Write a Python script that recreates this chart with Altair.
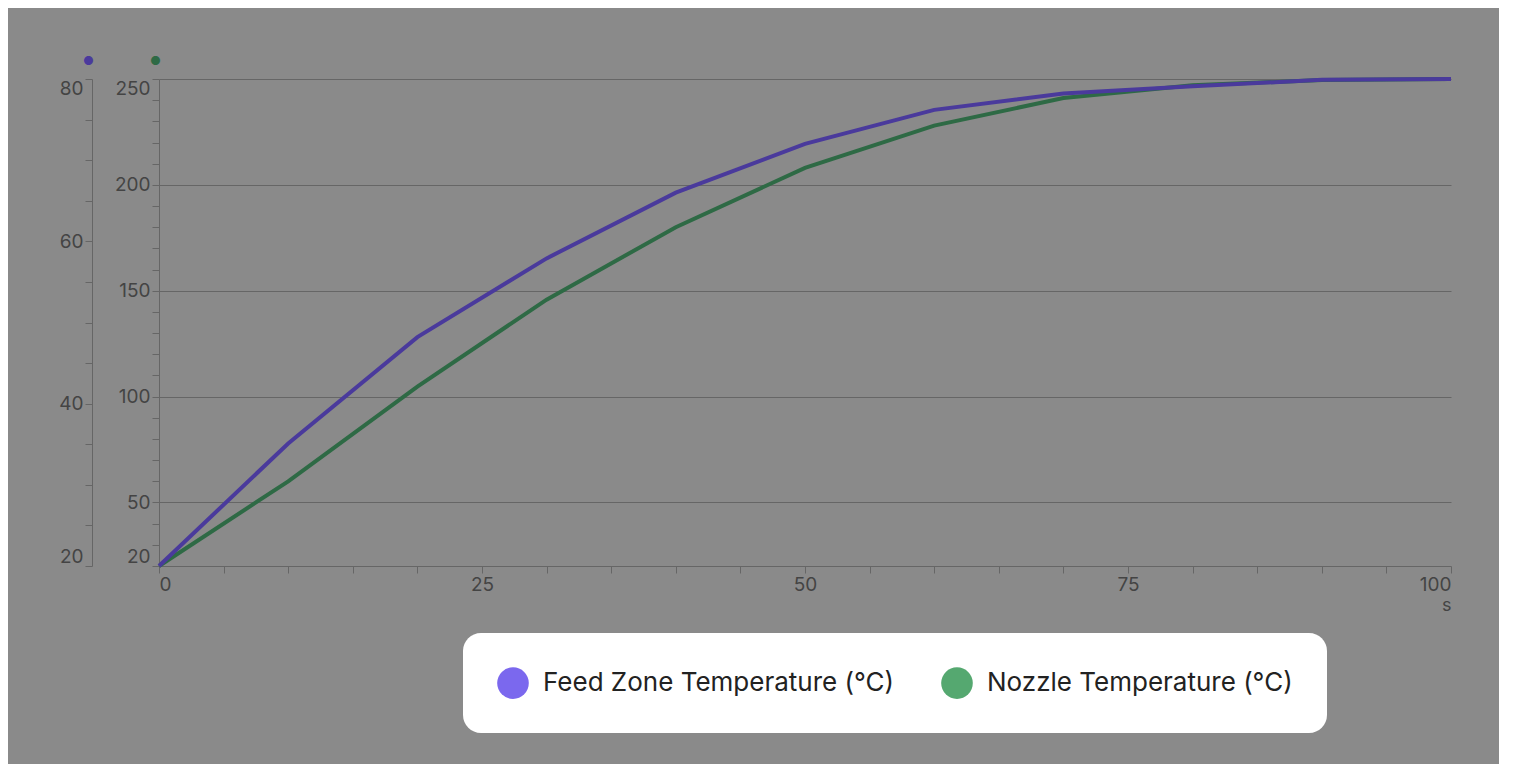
import altair as alt
import pandas as pd

seconds = [0, 10, 20, 30, 40, 50, 60, 70, 80, 90, 100]
feed_zone = [20, 35.1, 48.2, 57.9, 66.0, 72.0, 76.2, 78.2, 79.1, 79.9, 80]
nozzle = [20, 60, 104.7, 145.8, 180, 208, 228, 241, 247, 249.5, 250]
series = ["Feed Zone Temperature (°C)", "Nozzle Temperature (°C)"]

legend_colors = ["#7b68ee", "#55a870"]
line_colors = ["#4a3a9c", "#2e6a45"]
text_col = "#444444"

df = pd.DataFrame({"s": seconds, "feed": feed_zone, "nozzle": nozzle})

x_axis = alt.X("s:Q", scale=alt.Scale(domain=[0, 100], nice=False),
               axis=alt.Axis(values=list(range(0, 101, 5)), title="s",
                             labelExpr="datum.value % 25 == 0 ? datum.label : ''",
                             titleAnchor="end", titleFontWeight="normal",
                             titleFontSize=18, titleColor=text_col, titlePadding=2,
                             grid=False))

green = alt.Chart(df).mark_line(color=line_colors[1], strokeWidth=4).encode(
    x=x_axis,
    y=alt.Y("nozzle:Q", scale=alt.Scale(domain=[20, 250], nice=False, zero=False),
            axis=alt.Axis(orient="left", values=list(range(20, 251, 10)) + [250],
                          labelExpr="indexof([20,50,100,150,200,250], datum.value) >= 0 ? datum.label : ''",
                          gridOpacity={"condition": {"test": "indexof([50,100,150,200,250], datum.value) >= 0", "value": 1}, "value": 0},
                          gridColor="#666666", gridWidth=1.2,
                          title="●", titleColor=line_colors[1], titleAngle=0,
                          titleFontSize=12, titleX=-4, titleY=-12)),
)

purple = alt.Chart(df).mark_line(color=line_colors[0], strokeWidth=4).encode(
    x="s:Q",
    y=alt.Y("feed:Q", scale=alt.Scale(domain=[20, 80], nice=False, zero=False),
            axis=alt.Axis(orient="left", values=list(range(20, 81, 5)),
                          labelExpr="datum.value % 20 == 0 ? datum.label : ''",
                          gridOpacity={"condition": {"test": "datum.value == 40 || datum.value == 60", "value": 1}, "value": 0},
                          gridDash=[4, 4], gridColor="#6a6a6a",
                          offset=67,
                          title="●", titleColor=line_colors[0], titleAngle=0,
                          titleFontSize=12, titleX=-4, titleY=-12)),
)

legend_layer = alt.Chart(pd.DataFrame({"series": series})).mark_point(
    opacity=0, filled=True, shape="circle"
).encode(
    color=alt.Color("series:N", scale=alt.Scale(domain=series, range=legend_colors),
                    legend=alt.Legend(orient="none", legendX=304, legendY=554,
                                      direction="horizontal", title=None,
                                      symbolType="circle", symbolSize=1000,
                                      symbolOpacity=1, labelLimit=0,
                                      labelFontSize=26, labelColor="#222222",
                                      labelFont="Inter", columnPadding=46,
                                      fillColor="white", cornerRadius=18,
                                      padding=34, labelOffset=14,
                                      symbolStrokeWidth=0)),
)

chart = alt.layer(green, purple, legend_layer).resolve_scale(
    y="independent", color="independent"
).properties(
    width=1292, height=487, background="#8a8a8a",
    padding={"left": 50, "top": 46, "right": 40, "bottom": 180},
).configure_axis(
    domainColor="#666666", tickColor="#666666", tickSize=7,
    labelColor=text_col, labelFontSize=19, labelFont="Inter",
    labelFlush=True, titleFont="Inter",
).configure_view(stroke=None)

chart.save("out.html", embed_options={"renderer": "svg", "actions": False})
